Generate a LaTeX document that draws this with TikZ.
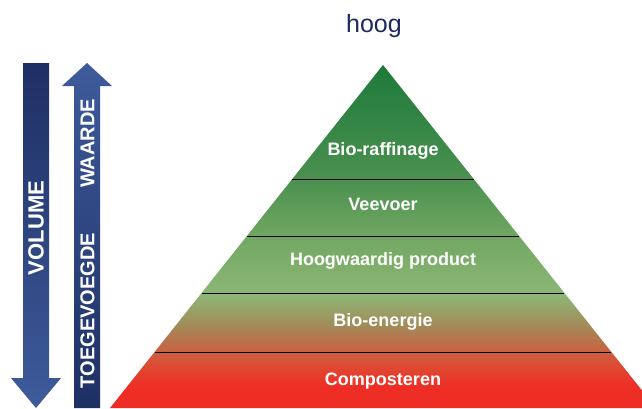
\documentclass[tikz,border=0pt]{standalone}
\usepackage{fontspec}
\setmainfont{Liberation Sans}
\usetikzlibrary{calc}

\definecolor{navytext}{HTML}{1F2A5C}
\definecolor{navydark}{HTML}{1E2F64}
\definecolor{navylight}{HTML}{3E5B9B}
\definecolor{pyrtop}{HTML}{1D7A3A}
\definecolor{pyrgreen}{HTML}{4C9150}
\definecolor{pyrmid}{HTML}{71A762}
\definecolor{pyrlight}{HTML}{8DB776}
\definecolor{pyrolive}{HTML}{A38A58}
\definecolor{pyrbrown}{HTML}{C76443}
\definecolor{pyrorange}{HTML}{DF4932}
\definecolor{pyrred}{HTML}{EE2D24}

\pgfdeclareverticalshading{pyramidshade}{100bp}{
  color(0bp)=(pyrred); color(25bp)=(pyrred); color(28bp)=(pyrred);
  color(31bp)=(pyrorange); color(33.5bp)=(pyrbrown); color(37bp)=(pyrolive);
  color(41.5bp)=(pyrlight); color(50bp)=(pyrmid); color(58bp)=(pyrgreen);
  color(75bp)=(pyrtop); color(100bp)=(pyrtop)}

\begin{document}
\begin{tikzpicture}[
        x=1pt, y=-1pt,
        layer/.style={text=white, font=\fontsize{18}{20}\selectfont\bfseries},
        divider/.style={black, line width=0.8pt},
        arrowtext/.style={text=white, rotate=90, inner sep=0pt},
        downarrow/.style={top color=navydark, bottom color=navylight},
        uparrow/.style={top color=navylight, bottom color=navydark}
        ]

        \useasboundingbox (0,0) rectangle (642,408);

        % pyramid
        \coordinate (apex) at (383,65);
        \coordinate (bl)   at (110,408);
        \coordinate (br)   at (656,408);
        \shade [shading=pyramidshade] (apex) -- (642,390.4) -- (642,408) -- (bl) -- cycle;

        \foreach \f/\n in {0.3324/a, 0.4985/b, 0.6647/c, 0.8367/d} {
            \coordinate (l\n) at ($(apex)!\f!(bl)$);
            \coordinate (r\n) at ($(apex)!\f!(br)$);
            \draw [divider] (l\n) -- (r\n);
        }

        \node (layer1) [layer] at (383,151) {Bio-raffinage};
        \node (layer2) [layer] at (383,204) {Veevoer};
        \node (layer3) [layer] at (383,261) {Hoogwaardig product};
        \node (layer4) [layer] at (383,322) {Bio-energie};
        \node (layer5) [layer] at (383,381) {Composteren};

        \node (hoog) [anchor=base, text=navytext, font=\fontsize{25}{28}\selectfont] at (374,32) {hoog};

        % arrows
        \shade [downarrow] (23,63) -- (49,63) -- (49,378) -- (61,378) -- (36,408) -- (11,378) -- (23,378) -- cycle;
        \shade [uparrow]   (87,63) -- (112,86) -- (100,86) -- (100,408) -- (74,408) -- (74,86) -- (62,86) -- cycle;

        \node (volume)      [arrowtext, font=\fontsize{22}{24}\selectfont\bfseries] at (36,228)    {VOLUME};
        \node (toegevoegde) [arrowtext, font=\fontsize{20}{22}\selectfont\bfseries] at (87.5,310.5) {TOEGEVOEGDE};
        \node (waarde)      [arrowtext, font=\fontsize{20}{22}\selectfont\bfseries] at (87.5,143.5) {WAARDE};

    \end{tikzpicture}
\end{document}
